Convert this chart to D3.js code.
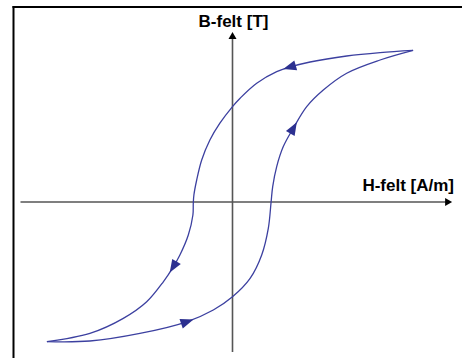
<!DOCTYPE html>
<html>
<head>
<meta charset="utf-8">
<script src="https://cdn.jsdelivr.net/npm/d3@7"></script>
<style>
  html, body { margin: 0; padding: 0; background: #ffffff; }
  svg { display: block; }
  text { font-family: "Liberation Sans", Arial, sans-serif; font-weight: bold; }
</style>
</head>
<body>
<svg id="chart" width="462" height="358"></svg>
<script>
// Hysteresis loop: magnetic flux density B versus field strength H (arbitrary units)
// Descending branch: from positive saturation back to negative saturation
const descendingH = [90.3, 73.8, 57.1, 38.8, 28.8, 22.1, 12.1, 3.8, 0, -6.3, -11.3, -15.4, -17.9, -19.3, -19.6, -19.8, -22.1, -26.3, -29.6, -34.6, -42.9, -54.6, -71.3, -92.8];
const descendingB = [75.8, 74.7, 73.0, 70.0, 67.5, 65.2, 59.4, 51.9, 47.7, 39.4, 31.0, 21.0, 11.0, 3.5, -0.5, -6.5, -16.5, -26.5, -32.4, -39.9, -49.9, -58.2, -65.7, -69.8];
// Ascending branch: from negative saturation up to positive saturation
const ascendingH = [-92.8, -71.3, -46.3, -22.9, -9.6, 0, 8.8, 14.6, 17.9, 19.3, 20.1, 22.1, 25.4, 30.4, 37.1, 45.4, 57.1, 73.8, 90.3];
const ascendingB = [-69.8, -69.5, -65.7, -59.9, -54.0, -47.4, -38.2, -26.5, -13.2, 0, 7.7, 17.7, 27.7, 36.9, 47.7, 56.0, 64.4, 71.0, 75.8];
// Direction arrows placed on the branches
const arrowsOnDescendingH = [28.8, -29.6];
const arrowsOnDescendingB = [67.5, -32.4];
const arrowsOnAscendingH = [-22.9, 30.4];
const arrowsOnAscendingB = [-59.9, 36.9];
// Axis titles
const axisTitleB = "B-felt [T]";
const axisTitleH = "H-felt [A/m]";

const svg = d3.select("#chart");
const x = d3.scaleLinear().domain([-100, 100]).range([32.5, 432.5]);
const y = d3.scaleLinear().domain([-100, 100]).range([402, 2]);

// Frame lines (left and top)
svg.append("line").attr("x1", 13.5).attr("x2", 13.5).attr("y1", 6).attr("y2", 358)
  .attr("stroke", "#000").attr("stroke-width", 2);
svg.append("line").attr("x1", 12.5).attr("x2", 462).attr("y1", 7).attr("y2", 7)
  .attr("stroke", "#000").attr("stroke-width", 2);

// Coordinate axes through the origin
const axisColor = "#555";
svg.append("line").attr("x1", x(-106)).attr("x2", x(108.5)).attr("y1", y(0)).attr("y2", y(0))
  .attr("stroke", axisColor).attr("stroke-width", 1.6);
svg.append("line").attr("x1", x(0)).attr("x2", x(0)).attr("y1", y(82)).attr("y2", y(-75))
  .attr("stroke", axisColor).attr("stroke-width", 1.6);
// axis arrowheads
const hx = x(109.8), vy = y(85);
svg.append("path").attr("d", `M${hx},${y(0)} L${hx - 7},${y(0) - 4} L${hx - 7},${y(0) + 4} Z`).attr("fill", "#000");
svg.append("path").attr("d", `M${x(0)},${vy} L${x(0) - 4},${vy + 7} L${x(0) + 4},${vy + 7} Z`).attr("fill", "#000");

svg.append("text").attr("x", x(0) + 1).attr("y", 27).attr("text-anchor", "middle")
  .attr("font-size", 17).attr("fill", "#000").text(axisTitleB);
svg.append("text").attr("x", 454).attr("y", 191).attr("text-anchor", "end")
  .attr("font-size", 17).attr("fill", "#000").text(axisTitleH);

// Loop branches
const line = d3.line().x(d => x(d[0])).y(d => y(d[1])).curve(d3.curveCatmullRom.alpha(0.5));
const curveColor = "#3c40a0";
const arrowColor = "#2c3090";

function drawBranch(hs, bs, ah, ab) {
  const pts = hs.map((h, i) => [h, bs[i]]);
  const path = svg.append("path").attr("d", line(pts)).attr("fill", "none")
    .attr("stroke", curveColor).attr("stroke-width", 1.3);
  const node = path.node();
  const len = node.getTotalLength();
  ah.forEach((h, i) => {
    const px = x(h), py = y(ab[i]);
    // nearest point along the path
    let best = 0, bestD = Infinity;
    for (let s = 0; s <= len; s += 0.5) {
      const p = node.getPointAtLength(s);
      const d = (p.x - px) ** 2 + (p.y - py) ** 2;
      if (d < bestD) { bestD = d; best = s; }
    }
    const p0 = node.getPointAtLength(Math.max(0, best - 2));
    const p1 = node.getPointAtLength(Math.min(len, best + 2));
    const ang = Math.atan2(p1.y - p0.y, p1.x - p0.x) * 180 / Math.PI;
    const c = node.getPointAtLength(best);
    svg.append("path").attr("d", "M7,0 L-6,-5 L-6,5 Z")
      .attr("transform", `translate(${c.x},${c.y}) rotate(${ang})`)
      .attr("fill", arrowColor);
  });
}
drawBranch(descendingH, descendingB, arrowsOnDescendingH, arrowsOnDescendingB);
drawBranch(ascendingH, ascendingB, arrowsOnAscendingH, arrowsOnAscendingB);
</script>
</body>
</html>
